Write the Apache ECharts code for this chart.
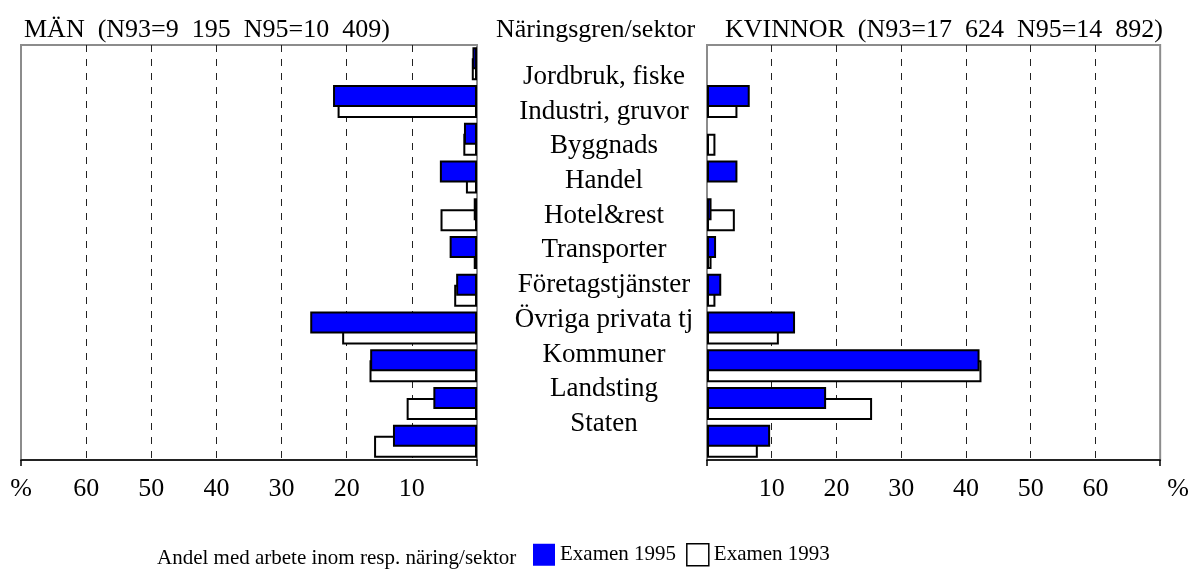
<!DOCTYPE html>
<html>
<head>
<meta charset="utf-8">
<script src="https://cdn.jsdelivr.net/npm/echarts@6/dist/echarts.min.js"></script>
<style>
html,body{margin:0;padding:0;background:#fff;}
#chart{width:1192px;height:569px;}
</style>
</head>
<body>
<div id="chart"></div>
<script>
const categories = ['Jordbruk, fiske','Industri, gruvor','Byggnads','Handel','Hotel&rest','Transporter','Företagstjänster','Övriga privata tj','Kommuner','Landsting','Staten'];
const men1995 = [0.7, 22.1, 2.0, 5.7, 0.5, 4.2, 3.2, 25.6, 16.4, 6.7, 12.9];
const men1993 = [0.8, 21.4, 2.1, 1.7, 5.6, 0.5, 3.5, 20.7, 16.5, 10.8, 15.8];
const women1995 = [0, 6.6, 0, 4.7, 0.7, 1.4, 2.2, 13.6, 42.1, 18.4, 9.75];
const women1993 = [0, 4.7, 1.3, 0, 4.3, 0.7, 1.3, 11.1, 42.4, 25.5, 7.85];
const axisTicks = [0, 10, 20, 30, 40, 50, 60, 70];
const titleMen = 'MÄN  (N93=9  195  N95=10  409)';
const titleWomen = 'KVINNOR  (N93=17  624  N95=14  892)';
const titleMid = 'Näringsgren/sektor';
const footText = 'Andel med arbete inom resp. näring/sektor';
const seriesNames = ['Examen 1995', 'Examen 1993'];

const FONT = "'Liberation Serif','Times New Roman',serif";
const chart = echarts.init(document.getElementById('chart'), null, {renderer: 'canvas'});

function valueAxis(gridIndex, inverse, isRight) {
  return {
    gridIndex: gridIndex, type: 'value', inverse: inverse, position: 'bottom',
    min: axisTicks[0], max: axisTicks[axisTicks.length - 1], interval: 10,
    axisLine: {show: true, onZero: false, lineStyle: {color: '#000', width: 1.5}},
    axisTick: {show: false},
    axisLabel: {
      margin: 16, fontSize: 26, fontFamily: FONT, color: '#000',
      formatter: function (v) {
        if (v === 0) return '';
        if (v === 70) return isRight ? '{p|%}' : '%';
        return String(v);
      },
      rich: {p: {fontSize: 26, fontFamily: FONT, color: '#000', padding: [0, 0, 0, 36]}}
    },
    splitLine: {show: true, showMinLine: false, showMaxLine: false,
      lineStyle: {color: '#222', width: 1, type: [7, 7]}}
  };
}
function tickAxis(gridIndex) {
  return {
    gridIndex: gridIndex, type: 'value', position: 'bottom', min: 0, max: 70, interval: 70,
    axisLine: {show: false}, axisLabel: {show: false}, splitLine: {show: false},
    axisTick: {show: true, length: 6, lineStyle: {color: '#000', width: 1.5}}
  };
}
function barData(values) {
  // zero-length bars are drawn without an outline (nothing visible)
  return values.map(function (v) {
    return v === 0 ? {value: v, itemStyle: {borderWidth: 0}} : v;
  });
}
function barSeries(name, data, axisIdx, isBlue) {
  return {
    name: name, type: 'bar', xAxisIndex: axisIdx, yAxisIndex: axisIdx, data: barData(data),
    barWidth: 22, barGap: '-50%', z: isBlue ? 3 : 2,
    itemStyle: {color: isBlue ? '#0000ff' : '#ffffff', borderColor: '#000', borderWidth: 2},
    emphasis: {disabled: true}
  };
}
const titleStyle = {fontSize: 26, fontWeight: 'normal', fontFamily: FONT, color: '#000'};

const option = {
  animation: false,
  backgroundColor: '#fff',
  title: [
    {text: titleMen, left: 24, top: 17, padding: 0, textStyle: titleStyle},
    {text: titleMid, left: 496, top: 17, padding: 0, textStyle: titleStyle},
    {text: titleWomen, right: 29, top: 17, padding: 0, textStyle: titleStyle},
    {text: footText, left: 157, top: 548, padding: 0, textStyle: Object.assign({}, titleStyle, {fontSize: 21})}
  ],
  legend: {
    left: 533, top: 543, padding: 0, itemWidth: 22, itemHeight: 22, itemGap: 10,
    icon: 'rect', selectedMode: false,
    textStyle: {fontSize: 21, fontFamily: FONT, color: '#000', padding: [4, 0, 0, 0]},
    data: [
      {name: seriesNames[0], itemStyle: {color: '#0000ff', borderWidth: 0}},
      {name: seriesNames[1], itemStyle: {color: '#ffffff', borderColor: '#000', borderWidth: 1.5}}
    ]
  },
  grid: [
    {left: 21, top: 45, width: 456, height: 415, show: true, borderColor: '#8c8c8c', borderWidth: 2, backgroundColor: 'transparent'},
    {left: 707, top: 45, width: 455, height: 415, show: true, borderColor: '#8c8c8c', borderWidth: 2, backgroundColor: 'transparent'},
    {left: 604, top: 59.5, width: 1, height: 381.7}
  ],
  xAxis: [
    valueAxis(0, true, false),
    valueAxis(1, false, true),
    tickAxis(0),
    tickAxis(1),
    {gridIndex: 2, type: 'value', show: false, min: 0, max: 1}
  ],
  yAxis: [
    {gridIndex: 0, type: 'category', data: categories, inverse: true, show: false},
    {gridIndex: 1, type: 'category', data: categories, inverse: true, show: false},
    {gridIndex: 2, type: 'category', data: categories, inverse: true, position: 'left',
      axisLine: {show: false}, axisTick: {show: false},
      axisLabel: {interval: 0, align: 'center', margin: 0, fontSize: 27, fontFamily: FONT, color: '#000'}}
  ],
  series: [
    barSeries(seriesNames[0], men1995, 0, true),
    barSeries(seriesNames[1], men1993, 0, false),
    barSeries(seriesNames[0], women1995, 1, true),
    barSeries(seriesNames[1], women1993, 1, false)
  ]
};
chart.setOption(option);
</script>
</body>
</html>
